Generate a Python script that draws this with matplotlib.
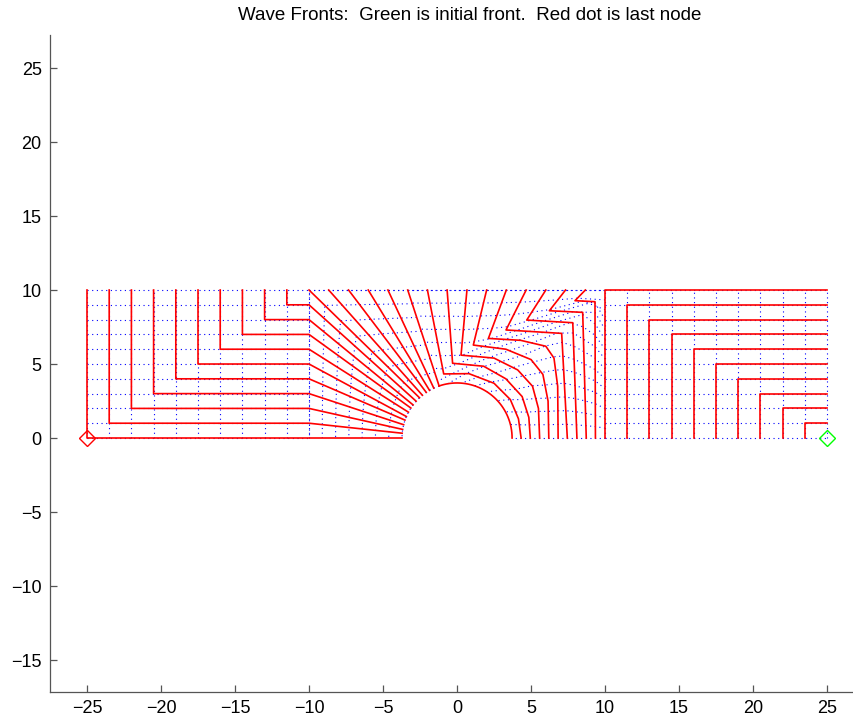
import numpy as np
import matplotlib
matplotlib.use('Agg')
import matplotlib.pyplot as plt

plt.rcParams['font.family'] = ['Liberation Sans', 'DejaVu Sans']

# first ten fronts on the right: vertical leg at x from y=0 up to h, then across to x=25
right_x = [23.5, 22.0, 20.5, 19.0, 17.5, 16.0, 14.5, 13.0, 11.5, 10.0]
right_h = [1, 2, 3, 4, 5, 6, 7, 8, 9, 10]

# last ten fronts on the left: vertical leg from y=10 down to h, then across to x=-10
left_x = [-11.5, -13.0, -14.5, -16.0, -17.5, -19.0, -20.5, -22.0, -23.5, -25.0]
left_h = [9, 8, 7, 6, 5, 4, 3, 2, 1, 0]

# where fronts 11..25 touch the top wall y=10
top_x = [8.67, 7.33, 6.0, 4.67, 3.33, 2.0, 0.67, -0.67, -2.0, -3.33,
         -4.67, -6.0, -7.33, -8.67, -10.0]

# fronts 11..19 between the top wall and y=0, right of the obstacle
mid_x = [
    [8.67, 7.97, 9.32, 9.35],
    [7.33, 6.24, 8.49, 8.73],
    [6.0, 4.71, 7.82, 8.10],
    [4.67, 3.31, 7.07, 7.45],
    [3.33, 2.12, 4.3, 6.0, 6.55, 6.8, 6.83],
    [2.0, 1.1, 3.3, 5.0, 5.8, 6.15, 6.2],
    [0.67, 0.27, 2.5, 4.1, 5.1, 5.5, 5.58],
    [-0.67, -0.3, 1.8, 3.3, 4.4, 4.85, 4.95],
    [-2.0, -0.9, 0.8, 2.5, 3.6, 4.15, 4.33],
]
mid_y = [
    [10, 9.28, 9.21, 0],
    [10, 8.6, 8.49, 0],
    [10, 7.97, 7.79, 0],
    [10, 7.3, 7.07, 0],
    [10, 6.73, 6.6, 6.2, 5.4, 3.5, 0],
    [10, 6.28, 6.0, 5.3, 4.3, 2.5, 0],
    [10, 5.6, 5.4, 4.6, 3.5, 2.0, 0],
    [10, 5.05, 4.85, 4.0, 2.8, 1.4, 0],
    [10, 4.33, 4.35, 3.7, 2.6, 1.3, 0],
]

# half-disc obstacle and the angles (deg) where fronts 20..35 meet it
obst_r = 3.72
contact_deg = [109, 115, 120, 124, 129, 133, 138, 143, 147, 152, 157, 161, 166, 171, 175, 180]

start_pt = (25, 0)   # initial front
end_pt = (-25, 0)    # last node


def resample(px, py, n):
    px, py = np.asarray(px, float), np.asarray(py, float)
    s = np.r_[0, np.cumsum(np.hypot(np.diff(px), np.diff(py)))]
    t = np.linspace(0, s[-1], n)
    return np.interp(t, s, px), np.interp(t, s, py)


fig = plt.figure(figsize=(8.54, 7.21), dpi=100)
ax = fig.add_axes([50 / 854, 29 / 721, 804 / 854, 657 / 721])

dot = dict(color='b', lw=0.8, ls=(0, (1, 3.2)), zorder=1)
red = dict(color='r', lw=1.2, zorder=2)

# ray grid in the two straight sections
for j in range(11):
    ax.plot([10, 25], [j, j], **dot)
    ax.plot([-25, -10], [j, j], **dot)
for i in range(11):
    ax.plot([25 - 1.5 * i] * 2, [0, 10], **dot)
    ax.plot([-25 + 1.5 * i] * 2, [0, 10], **dot)
ax.plot([-10, 10], [10, 10], **dot)

# right L-shaped fronts
for x, h in zip(right_x, right_h):
    ax.plot([x, x, 25], [0, h, h], **red)

# left L-shaped fronts, then the fan down to the obstacle
fan_x, fan_y = [], []
for k, (x, h) in enumerate(zip(left_x, left_h)):
    a = np.deg2rad(contact_deg[6 + k])
    cx, cy = obst_r * np.cos(a), obst_r * np.sin(a)
    ax.plot([x, x, -10, cx], [10, h, h, cy], **red)
    fan_x.append([-10, cx])
    fan_y.append([h, cy])

# fronts 20..25 from the top wall straight to the obstacle
for k in range(6):
    a = np.deg2rad(contact_deg[k])
    cx, cy = obst_r * np.cos(a), obst_r * np.sin(a)
    ax.plot([top_x[9 + k], cx], [10, cy], **red)
    fan_x.insert(k, [top_x[9 + k], cx])
    fan_y.insert(k, [10, cy])

# front 20 hugs the obstacle down to y=0
arc = np.deg2rad(np.linspace(contact_deg[0], 0, 40))
ax.plot(obst_r * np.cos(arc), obst_r * np.sin(arc), **red)

# curved fronts right of the obstacle
bend_x = [[10, 10]]
bend_y = [[10, 0]]
for fx, fy in zip(mid_x, mid_y):
    ax.plot(fx, fy, **red)
    bend_x.append(fx)
    bend_y.append(fy)
bend_x.append([top_x[9]] + list(obst_r * np.cos(arc)))
bend_y.append([10] + list(obst_r * np.sin(arc)))

# rays linking matching nodes of neighbouring fronts
for groups, n in ((list(zip(bend_x, bend_y)), 16), (list(zip(fan_x, fan_y)), 8)):
    nodes = [resample(gx, gy, n) for gx, gy in groups]
    for m in range(n):
        ax.plot([p[0][m] for p in nodes], [p[1][m] for p in nodes], **dot)

ax.plot(*start_pt, 'D', mfc='none', mec=(0, 1, 0), ms=8.5, mew=1, zorder=3)
ax.plot(*end_pt, 'D', mfc='none', mec='r', ms=8.5, mew=1, zorder=3)

ax.set_xlim(-27.5, 26.82)
ax.set_ylim(-17.16, 27.23)
ax.set_xticks(np.arange(-25, 26, 5))
ax.set_yticks(np.arange(-15, 26, 5))
for s in ('top', 'right'):
    ax.spines[s].set_visible(False)
for s in ('left', 'bottom'):
    ax.spines[s].set_color('#555555')
    ax.spines[s].set_linewidth(0.9)
ax.tick_params(direction='in', length=5, width=0.9, color='#555555',
               labelsize=13, pad=6)

fig.text(469.5 / 854, 1 - 16 / 721, 'Wave Fronts:  Green is initial front.  Red dot is last node',
         ha='center', va='center', fontsize=13.5)

fig.savefig('out.png', dpi=100)
